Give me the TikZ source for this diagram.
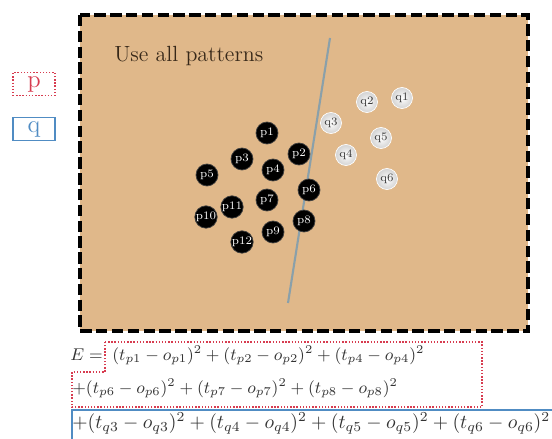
\RequirePackage{fix-cm}
\documentclass[tikz,border=0pt]{standalone}
\usepackage{fontspec}

\definecolor{boardtan}{RGB}{224,184,138}
\definecolor{splitgray}{RGB}{138,160,170}
\definecolor{pred}{RGB}{215,60,80}
\definecolor{qblue}{RGB}{80,140,195}
\definecolor{inkbrown}{RGB}{55,40,25}

\newcommand*{\boxl}{80}
\newcommand*{\boxr}{528}
\newcommand*{\boxt}{15}
\newcommand*{\boxb}{331}

\begin{document}
\begin{tikzpicture}[x=0.02cm,y=-0.02cm,
	pball/.style={circle,fill=black,draw=gray!50!black,minimum size=22*0.02cm,inner sep=0pt,text=white,font=\fontsize{6.5}{7}\selectfont},
	qball/.style={circle,inner color=white,outer color=gray!35,draw=white,minimum size=21*0.02cm,inner sep=0pt,text=gray!45!black,font=\fontsize{6.5}{7}\selectfont},
	tagbox/.style={rectangle,minimum width=42*0.02cm,minimum height=23*0.02cm,inner sep=0pt,font=\fontsize{14}{16}\selectfont},
	eqline/.style={anchor=west,inner sep=0pt,text=black!80,font=\fontsize{9.7}{12}\selectfont}]

	\useasboundingbox (0,0) rectangle (552,439);

	% board
	\fill[boardtan] (\boxl,\boxt) rectangle (\boxr,\boxb);
	\draw[line width=2pt,dash pattern=on 6.5pt off 2.5pt] (\boxl,\boxt) rectangle (\boxr,\boxb);
	\node[anchor=base west,inner sep=0pt,text=inkbrown,font=\fontsize{12.5}{15}\selectfont] (title) at (114,62) {Use all patterns};

	% legend
	\node[tagbox,draw=pred,densely dotted,thick,text=pred] (ptag) at (34,84) {p};
	\node[tagbox,draw=qblue,thick,text=qblue] (qtag) at (34,129) {q};

	% separating line
	\coordinate (sa) at (330,38);
	\coordinate (sb) at (288,303);
	\draw[splitgray,line width=1.2pt] (sa) -- (sb);

	% patterns
	\foreach \n/\x/\y in {p1/267/133,p2/299/154,p3/242/159,p4/273/170,p5/207/175,p6/309/190,p7/267/200,p8/304/221,p9/273/232,p10/206/217,p11/232/207,p12/242/242}
		\node[pball] (\n) at (\x,\y) {\n};
	\foreach \n/\x/\y in {q1/402/98,q2/367/102,q3/331/123,q4/346/155,q5/381/138,q6/387/179}
		\node[qball] (\n) at (\x,\y) {\n};

	% error terms
	\node[eqline] (eq1) at (70,355) {$E =\; (t_{p1}-o_{p1})^2+(t_{p2}-o_{p2})^2+(t_{p4}-o_{p4})^2$};
	\node[eqline] (eq2) at (72,388) {$+(t_{p6}-o_{p6})^2+(t_{p7}-o_{p7})^2+(t_{p8}-o_{p8})^2$};
	\node[eqline,font=\fontsize{11.2}{13}\selectfont] (eq3) at (72,423) {$+(t_{q3}-o_{q3})^2+(t_{q4}-o_{q4})^2+(t_{q5}-o_{q5})^2+(t_{q6}-o_{q6})^2$};

	\draw[pred,densely dotted,thick] (105,342) -- (482,342) -- (482,407) -- (72,407) -- (72,372) -- (105,372) -- cycle;
	\draw[qblue,thick] (72,410) rectangle (560,450);

\end{tikzpicture}
\end{document}
